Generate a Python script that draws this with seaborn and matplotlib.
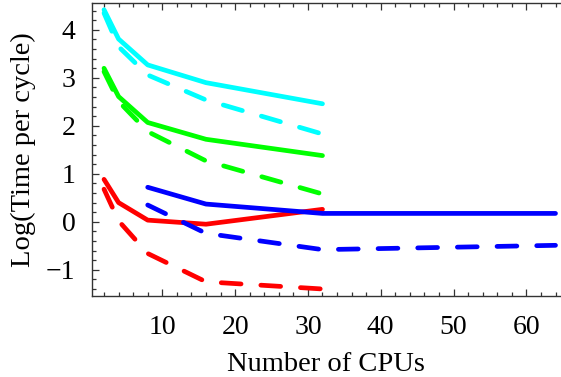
import numpy as np
import pandas as pd
import matplotlib
matplotlib.use("Agg")
import matplotlib.pyplot as plt
from matplotlib.ticker import MultipleLocator
import seaborn as sns

# values
cpus = [2, 4, 8, 16, 32]
blue_cpus = [8, 16, 32, 64]
cyan_solid = [4.42, 3.81, 3.27, 2.90, 2.46]
cyan_dashed = [4.35, 3.65, 3.06, 2.54, 1.83]
green_solid = [3.20, 2.61, 2.07, 1.72, 1.38]
green_dashed = [3.13, 2.51, 1.88, 1.27, 0.58]
red_solid = [0.885, 0.40, 0.035, -0.05, 0.26]
red_dashed = [0.68, 0.02, -0.66, -1.25, -1.40]
blue_solid = [0.72, 0.37, 0.175, 0.175]
blue_dashed = [0.35, -0.24, -0.58, -0.49]

series = [
    ("cyan", "solid", cpus, cyan_solid),
    ("cyan", "dashed", cpus, cyan_dashed),
    ("green", "solid", cpus, green_solid),
    ("green", "dashed", cpus, green_dashed),
    ("red", "solid", cpus, red_solid),
    ("red", "dashed", cpus, red_dashed),
    ("blue", "solid", blue_cpus, blue_solid),
    ("blue", "dashed", blue_cpus, blue_dashed),
]
rows = []
for col, kind, xs, ys in series:
    for x, y in zip(xs, ys):
        rows.append({"cpus": x, "logt": y, "colour": col, "kind": kind})
df = pd.DataFrame(rows)

sns.set_style("ticks")
plt.rcParams["font.family"] = ["Liberation Serif", "DejaVu Serif"]
plt.rcParams["text.color"] = "black"
plt.rcParams["axes.labelcolor"] = "black"
plt.rcParams["xtick.labelcolor"] = "black"
plt.rcParams["ytick.labelcolor"] = "black"
plt.rcParams["lines.dash_capstyle"] = "round"
plt.rcParams["lines.solid_capstyle"] = "round"

palette = {"cyan": "#00FFFF", "green": "#00FF00", "red": "#FF0000", "blue": "#0000FF"}
dashes = {"solid": "", "dashed": (4.2, 4.2)}

fig = plt.figure(figsize=(5.61, 3.77), dpi=100)
ax = fig.add_axes([0.164, 0.215, 0.834, 0.777])

sns.lineplot(data=df, x="cpus", y="logt", hue="colour", style="kind",
             palette=palette, dashes=dashes, linewidth=3.4, legend=False,
             estimator=None, sort=False, ax=ax)

ax.set_xlim(0.35, 64.6)
ax.set_ylim(-1.545, 4.56)
ax.xaxis.set_major_locator(MultipleLocator(10))
ax.xaxis.set_minor_locator(MultipleLocator(2))
ax.yaxis.set_major_locator(MultipleLocator(1))
ax.yaxis.set_minor_locator(MultipleLocator(0.2))
ax.tick_params(which="both", direction="in", top=True, right=False,
               labelsize=20, width=0.9, color="#333333")
ax.tick_params(axis="x", which="major", length=5, pad=14)
ax.tick_params(axis="y", which="major", length=5, pad=12)
ax.tick_params(which="minor", length=3)
for s in ["left", "bottom", "top"]:
    ax.spines[s].set_linewidth(1.0)
    ax.spines[s].set_color("#333333")
ax.spines["right"].set_visible(False)

ax.set_xlabel("Number of CPUs", fontsize=20.5, labelpad=8)
ax.set_ylabel("Log(Time per cycle)", fontsize=20.5, labelpad=7)

fig.savefig("out.png", dpi=100)
